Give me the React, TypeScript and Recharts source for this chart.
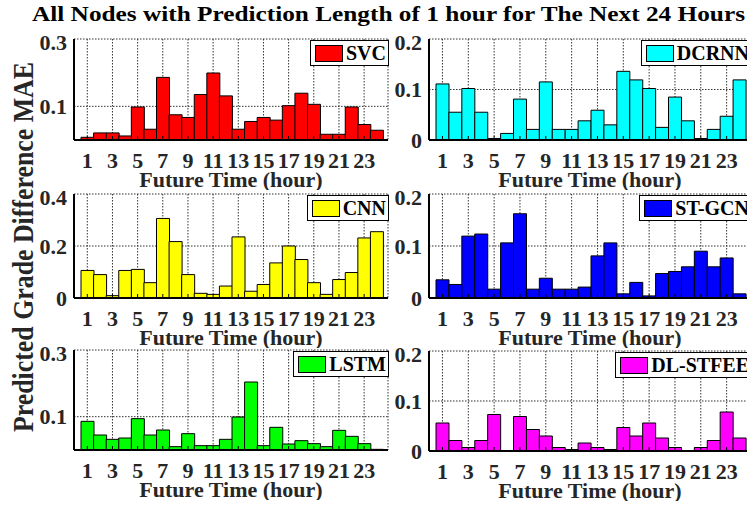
import React from 'react';
import { BarChart, Bar, XAxis, YAxis, CartesianGrid, Legend } from 'recharts';

const hours = [1, 2, 3, 4, 5, 6, 7, 8, 9, 10, 11, 12, 13, 14, 15, 16, 17, 18, 19, 20, 21, 22, 23, 24];
const oddHours = [1, 3, 5, 7, 9, 11, 13, 15, 17, 19, 21, 23];

const svc = [0.008, 0.021, 0.021, 0.012, 0.098, 0.032, 0.186, 0.075, 0.067, 0.135, 0.199, 0.131,
  0.032, 0.055, 0.067, 0.059, 0.102, 0.139, 0.106, 0.017, 0.017, 0.098, 0.046, 0.029];
const dcrnn = [0.111, 0.055, 0.102, 0.055, 0.003, 0.013, 0.081, 0.021, 0.115, 0.021, 0.021, 0.038,
  0.059, 0.030, 0.136, 0.119, 0.102, 0.025, 0.085, 0.038, 0.003, 0.021, 0.047, 0.119];
const cnn = [0.106, 0.090, 0.009, 0.106, 0.110, 0.059, 0.306, 0.217, 0.090, 0.018, 0.014, 0.046,
  0.235, 0.026, 0.052, 0.135, 0.200, 0.148, 0.059, 0.014, 0.071, 0.098, 0.231, 0.255];
const stgcn = [0.035, 0.026, 0.119, 0.123, 0.017, 0.106, 0.162, 0.017, 0.038, 0.017, 0.017, 0.021,
  0.081, 0.106, 0.008, 0.030, 0.004, 0.047, 0.051, 0.060, 0.090, 0.060, 0.077, 0.008];
const lstm = [0.086, 0.045, 0.032, 0.036, 0.094, 0.045, 0.060, 0.010, 0.049, 0.013, 0.013, 0.032,
  0.099, 0.204, 0.013, 0.068, 0.018, 0.028, 0.019, 0.010, 0.059, 0.041, 0.019, 0.002];
const dlstfee = [0.056, 0.021, 0.007, 0.021, 0.073, 0.001, 0.069, 0.043, 0.030, 0.007, 0.003, 0.016,
  0.007, 0.003, 0.047, 0.030, 0.056, 0.026, 0.007, 0, 0.007, 0.021, 0.078, 0.026];

const FONT = '"Liberation Serif", "Times New Roman", Times, serif';
const INK = '#262626';
const Y_AXIS_W = 74;

type Box = { x: number; y: number; w: number; h: number };

function LegendBox(props: any) {
  const item = props.payload && props.payload[0];
  if (!item) return null;
  return (
    <div
      style={{
        display: 'inline-flex',
        alignItems: 'center',
        background: '#fff',
        border: '1.5px solid #000',
        padding: '2px 2px 2px 4px',
        fontFamily: FONT,
        fontWeight: 'bold',
        fontSize: 20,
        lineHeight: '20px',
        color: '#000',
        whiteSpace: 'nowrap',
      }}
    >
      <span
        style={{
          display: 'inline-block',
          width: 28,
          height: 17,
          background: item.color,
          border: '1px solid #000',
          boxSizing: 'border-box',
          marginRight: 3,
        }}
      />
      {item.value}
    </div>
  );
}

function Panel({ name, color, values, yMax, yTicks, box }: {
  name: string; color: string; values: number[]; yMax: number; yTicks: number[]; box: Box;
}) {
  const data = hours.map((h, i) => ({ hour: h, value: values[i] }));
  const margin = { top: 10, right: 2, bottom: 0, left: 0 };
  const xAxisH = 50;
  const width = Y_AXIS_W + box.w + margin.right;
  const height = margin.top + box.h + xAxisH;
  const tickStyle = { fill: INK, fontSize: 22, fontWeight: 'bold', fontFamily: FONT };
  const frame = { stroke: '#000', strokeWidth: 2 };

  return (
    <div style={{ position: 'absolute', left: box.x - Y_AXIS_W, top: box.y - margin.top }}>
      <BarChart width={width} height={height} data={data} margin={margin} barCategoryGap={0} barGap={0}>
        <CartesianGrid stroke="#333" strokeDasharray="1.5 1.5" strokeWidth={1} />
        <XAxis
          dataKey="hour"
          ticks={oddHours}
          interval={0}
          padding={{ left: 7, right: 5 }}
          height={xAxisH}
          tickLine={{ stroke: '#000' }}
          tickSize={-4}
          tickMargin={16}
          tick={tickStyle}
          axisLine={frame}
          label={{
            value: 'Future Time (hour)',
            position: 'insideBottom',
            offset: 3,
            fill: INK,
            fontSize: 22,
            fontWeight: 'bold',
            fontFamily: FONT,
          }}
        />
        <XAxis
          xAxisId="top"
          dataKey="hour"
          orientation="top"
          height={0}
          tick={false}
          tickLine={false}
          axisLine={frame}
        />
        <YAxis
          domain={[0, yMax]}
          ticks={yTicks}
          width={Y_AXIS_W}
          tickLine={false}
          tickSize={0}
          tickMargin={7}
          tick={tickStyle}
          axisLine={frame}
          allowDataOverflow
        />
        <YAxis
          yAxisId="right"
          orientation="right"
          domain={[0, 1]}
          width={0}
          tick={false}
          tickLine={false}
          axisLine={frame}
        />
        <Legend
          layout="horizontal"
          verticalAlign="middle"
          align="center"
          content={LegendBox}
          wrapperStyle={{ top: margin.top + 1, right: margin.right - 1, left: 'auto', width: 'auto', height: 'auto' }}
        />
        <Bar dataKey="value" name={name} fill={color} stroke="#000" strokeWidth={1} isAnimationActive={false} />
      </BarChart>
    </div>
  );
}

export default function App() {
  return (
    <div
      style={{
        position: 'absolute',
        left: 0,
        top: 0,
        width: 747,
        height: 507,
        overflow: 'hidden',
        background: '#fff',
      }}
    >
      <svg width={747} height={507} style={{ position: 'absolute', left: 0, top: 0 }}>
        <text
          x={32}
          y={21}
          fontFamily={FONT}
          fontWeight="bold"
          fontSize={22}
          fill="#000"
          textLength={713}
          lengthAdjust="spacingAndGlyphs"
        >
          All Nodes with Prediction Length of 1 hour for The Next 24 Hours
        </text>
        <text
          transform="translate(33, 432) rotate(-90)"
          x={0}
          y={0}
          fontFamily={FONT}
          fontWeight="bold"
          fontSize={30}
          fill={INK}
          textLength={370}
          lengthAdjust="spacingAndGlyphs"
        >
          Predicted Grade Difference MAE
        </text>
      </svg>
      <Panel name="SVC" color="#ff0000" values={svc} yMax={0.3} yTicks={[0.1, 0.3]} box={{ x: 74, y: 39, w: 314, h: 101 }} />
      <Panel name="DCRNN" color="#00ffff" values={dcrnn} yMax={0.2} yTicks={[0, 0.1, 0.2]} box={{ x: 429, y: 39, w: 322, h: 101 }} />
      <Panel name="CNN" color="#ffff00" values={cnn} yMax={0.4} yTicks={[0, 0.2, 0.4]} box={{ x: 74, y: 194, w: 314, h: 104 }} />
      <Panel name="ST-GCN" color="#0000ff" values={stgcn} yMax={0.2} yTicks={[0, 0.1, 0.2]} box={{ x: 429, y: 194, w: 322, h: 104 }} />
      <Panel name="LSTM" color="#00ff00" values={lstm} yMax={0.3} yTicks={[0.1, 0.3]} box={{ x: 74, y: 350, w: 314, h: 100 }} />
      <Panel name="DL-STFEE" color="#ff00ff" values={dlstfee} yMax={0.2} yTicks={[0, 0.1, 0.2]} box={{ x: 429, y: 351, w: 322, h: 100 }} />
    </div>
  );
}
